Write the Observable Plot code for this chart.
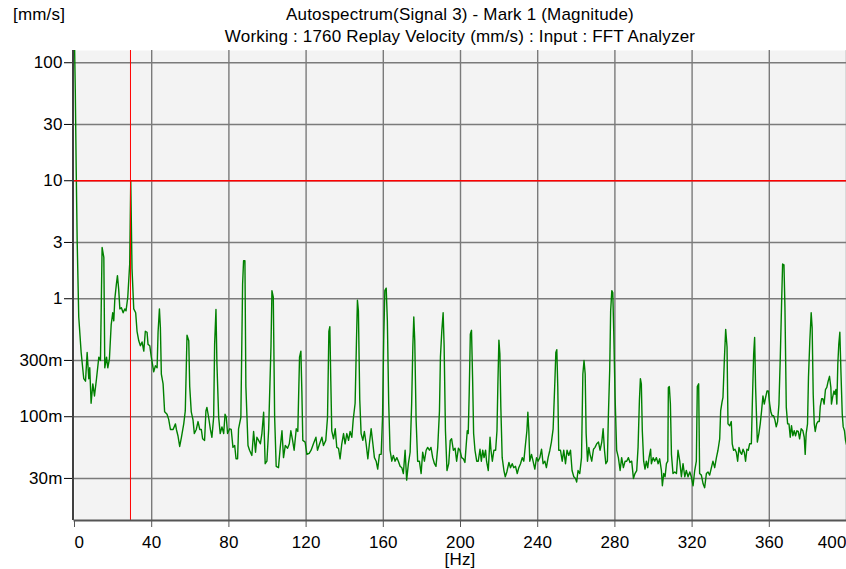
<!DOCTYPE html>
<html><head><meta charset="utf-8">
<script src="https://cdn.jsdelivr.net/npm/d3@7"></script>
<script src="https://cdn.jsdelivr.net/npm/@observablehq/plot@0.6"></script>
<style>
body{margin:0;background:#fff;font-family:"Liberation Sans",Arial,sans-serif;}
#wrap{position:relative;width:846px;height:569px;overflow:hidden;background:#fff}
.t{position:absolute;font-size:17px;letter-spacing:0.18px;color:#000;white-space:nowrap;line-height:22px}
#chart{position:absolute;left:0;top:0}
</style></head><body>
<div id="wrap">
<div id="chart"></div>
<div class="t" style="left:13px;top:4.1px">[mm/s]</div>
<div class="t" style="left:74px;width:772px;text-align:center;top:4.1px">Autospectrum(Signal 3) - Mark 1 (Magnitude)</div>
<div class="t" style="left:74px;width:772px;text-align:center;top:26.1px">Working : 1760 Replay Velocity (mm/s) : Input : FFT Analyzer</div>
<div class="t" style="left:74px;width:772px;text-align:center;top:552px;line-height:16px">[Hz]</div>
</div>
<script>
// Frequency axis [Hz]
const freq = [0,0.4,0.9,1.4,2.2,
3.45,4.8,5.7,6.55,7.4,7.9,8.6,9.5,10.35,11.4,12.6,13.45,14.3,15.2,15.7,16.6,17.25,18.1,19.0,19.8,20.35,20.9,21.7,22.25,22.9,23.5,24.3,25.2,26.05,26.7,27.6,28.6,29.15,29.8,30.7,31.7,32.4,33.3,34.15,35.0,35.9,36.7,37.6,38.1,39.0,39.8,41.05,41.9,42.8,43.3,44.0,44.5,45.0,45.9,46.7,47.95,48.8,49.7,51.1,52.3,52.8,53.6,54.5,55.4,56.6,57.4,58.3,59.2,59.7,60.5,61.4,62.1,63.1,64.0,64.9,65.7,66.4,67.4,68.1,68.6,69.5,70.4,71.2,72.1,72.6,73.3,73.8,74.7,75.5,76.4,77.3,78.0,78.65,79.3,80.4,81.2,82.1,83.0,83.7,84.5,85.0,86.2,87.1,87.6,88.3,88.8,89.9,90.7,91.9,92.8,93.8,94.5,95.4,96.3,97.1,98.0,98.8,99.7,
100.6,101.8,102.3,103.0,103.7,104.5,105.7,106.6,107.5,108.3,109.2,110.4,111.3,112.1,113.0,113.8,114.9,115.7,116.6,117.3,117.8,118.3,119.5,120.4,121.6,122.6,123.8,125.1,125.9,127.0,128.2,129.0,130.2,131.1,131.8,132.3,132.8,133.3,134.2,135.1,135.9,136.8,137.6,138.5,139.4,140.2,141.1,142.0,142.8,143.7,144.4,145.4,146.1,146.6,147.1,147.8,148.5,149.4,150.2,151.1,152.0,152.8,153.7,154.6,155.4,156.3,157.1,158.0,158.9,159.6,160.2,160.8,161.5,162.1,162.8,163.5,164.4,165.2,166.1,167.0,167.8,168.7,169.6,170.4,171.3,172.1,173.0,173.9,174.7,175.3,175.8,176.3,177.0,177.8,178.7,179.6,180.4,181.3,182.2,183.0,183.9,184.7,185.6,186.5,187.3,188.2,189.1,189.6,190.3,191.0,191.5,192.2,193.0,193.9,194.7,195.4,196.3,197.2,198.0,198.9,199.7,200.6,201.5,202.3,
203.5,204.0,204.5,205.1,205.7,206.3,206.8,207.5,208.4,209.2,210.1,210.8,211.5,212.2,213.0,213.5,214.4,215.3,215.8,216.5,217.3,218.2,218.9,219.4,219.9,220.4,220.9,221.6,222.5,223.2,224.0,225.1,225.9,226.8,227.6,228.5,229.4,230.2,231.1,232.0,232.8,233.7,234.4,234.9,235.4,235.9,236.8,237.6,238.5,239.4,240.2,241.1,242.0,242.8,243.7,244.5,245.4,246.3,247.1,248.0,248.9,249.4,249.9,250.4,250.9,251.8,252.7,253.5,254.4,255.2,256.1,257.0,257.8,258.7,259.6,260.2,260.9,261.8,262.7,263.4,264.0,264.6,265.1,265.8,266.5,267.1,268.0,268.9,269.7,270.6,271.5,272.3,273.2,273.9,274.6,275.3,276.1,276.6,277.3,277.8,278.4,278.9,279.4,280.1,280.9,281.8,282.7,283.5,284.4,285.3,286.1,287.0,287.8,288.7,289.6,290.4,291.3,292.0,292.7,293.2,293.7,294.2,294.9,295.6,296.3,297.0,297.7,298.5,
298.9,299.8,300.6,301.5,302.4,303.2,304.1,304.6,305.3,306.0,306.7,307.4,307.7,308.2,308.75,309.3,310.1,311.0,311.9,312.7,313.6,314.45,315.3,316.2,317.0,317.9,318.8,319.6,320.5,321.35,322.2,322.7,323.4,323.9,324.8,325.7,326.5,327.4,328.25,329.1,330.0,330.8,331.7,332.6,333.4,334.3,334.8,335.5,336.0,336.7,337.4,338.1,338.6,339.5,340.3,340.8,341.5,342.2,342.9,343.6,344.3,345.0,345.7,346.4,347.05,347.7,348.4,349.1,349.8,350.7,351.2,351.9,352.4,352.9,353.8,354.6,355.3,356.0,356.7,357.4,358.1,358.8,359.5,360.2,360.85,361.5,362.2,362.9,363.6,364.3,365.0,365.7,366.4,366.9,367.6,368.1,368.8,369.5,370.2,370.85,371.5,372.2,372.9,373.6,374.3,375.0,375.7,376.5,377.4,378.1,378.6,379.1,379.8,380.3,381.0,381.7,382.2,382.75,383.3,383.8,384.5,385.2,385.9,386.4,387.1,387.75,388.4,389.1,389.8,390.5,391.2,391.9,392.2,392.8,393.5,394.0,394.5,395.0,395.5,396.0,396.55,397.1,397.8,398.3,398.95,399.5,400];

// Magnitude [mm/s]
const mag = [150,60,12,3.0,0.70,
0.35,0.21,0.20,0.35,0.21,0.26,0.13,0.19,0.15,0.21,0.32,0.30,2.72,2.24,0.26,0.32,0.26,0.31,0.60,0.76,0.65,1.0,1.33,1.57,1.2,0.82,0.84,0.76,0.82,0.79,1.03,1.97,9.9,1.8,0.82,0.76,0.53,0.44,0.40,0.43,0.36,0.53,0.52,0.41,0.40,0.32,0.24,0.27,0.26,0.52,0.82,0.57,0.23,0.19,0.11,0.105,0.095,0.078,0.078,0.087,0.078,0.069,0.056,0.067,0.087,0.112,0.49,0.44,0.18,0.11,0.094,0.072,0.078,0.091,0.078,0.078,0.065,0.063,0.112,0.12,0.099,0.078,0.067,0.099,0.41,0.81,0.28,0.099,0.072,0.082,0.072,0.105,0.099,0.072,0.079,0.078,0.055,0.057,0.044,0.044,0.079,0.099,1.33,2.10,2.10,0.18,0.057,0.052,0.047,0.075,0.050,0.067,0.063,0.059,0.072,0.109,0.040,0.042,
0.078,0.39,1.17,1.03,0.099,0.038,0.037,0.055,0.076,0.045,0.057,0.054,0.059,0.076,0.063,0.052,0.079,0.075,0.32,0.36,0.165,0.063,0.061,0.048,0.049,0.052,0.059,0.067,0.052,0.059,0.067,0.057,0.063,0.099,0.53,0.58,0.20,0.076,0.065,0.079,0.055,0.054,0.044,0.059,0.072,0.059,0.072,0.063,0.075,0.067,0.094,0.13,0.44,0.97,0.79,0.14,0.072,0.063,0.075,0.059,0.044,0.059,0.079,0.059,0.045,0.042,0.036,0.048,0.048,0.099,0.44,1.17,1.23,0.65,0.13,0.052,0.042,0.047,0.042,0.045,0.042,0.038,0.037,0.033,0.052,0.029,0.040,0.050,0.13,0.39,0.70,0.44,0.094,0.042,0.042,0.033,0.050,0.042,0.052,0.055,0.052,0.055,0.045,0.040,0.038,0.055,0.112,0.32,0.53,0.76,0.41,0.076,0.035,0.040,0.063,0.065,0.052,0.054,0.042,0.054,0.052,0.045,0.044,0.041,
0.076,0.072,0.156,0.50,0.54,0.20,0.072,0.052,0.042,0.042,0.053,0.042,0.052,0.045,0.052,0.042,0.035,0.067,0.052,0.042,0.052,0.052,0.076,0.20,0.446,0.34,0.12,0.045,0.035,0.031,0.034,0.041,0.037,0.040,0.037,0.038,0.033,0.037,0.040,0.045,0.042,0.059,0.076,0.109,0.076,0.042,0.048,0.042,0.036,0.045,0.042,0.045,0.053,0.040,0.042,0.037,0.045,0.052,0.061,0.079,0.20,0.35,0.37,0.18,0.052,0.052,0.042,0.052,0.040,0.052,0.047,0.052,0.035,0.031,0.030,0.028,0.035,0.033,0.045,0.23,0.30,0.23,0.072,0.042,0.055,0.048,0.042,0.053,0.055,0.059,0.061,0.052,0.061,0.079,0.052,0.040,0.042,0.099,0.245,0.79,1.17,1.13,0.53,0.146,0.052,0.045,0.035,0.045,0.037,0.042,0.042,0.045,0.041,0.042,0.030,0.033,0.035,0.055,0.137,0.21,0.19,0.076,0.042,0.036,0.042,0.037,0.045,0.053,
0.040,0.045,0.042,0.045,0.040,0.044,0.035,0.026,0.033,0.031,0.040,0.042,0.177,0.18,0.128,0.048,0.033,0.034,0.033,0.052,0.042,0.031,0.040,0.031,0.035,0.031,0.034,0.031,0.026,0.035,0.042,0.18,0.19,0.033,0.032,0.027,0.025,0.033,0.034,0.032,0.037,0.042,0.037,0.045,0.052,0.065,0.112,0.133,0.146,0.30,0.55,0.39,0.087,0.084,0.091,0.059,0.052,0.053,0.050,0.042,0.055,0.050,0.048,0.053,0.050,0.042,0.053,0.052,0.059,0.059,0.128,0.34,0.47,0.177,0.061,0.072,0.087,0.112,0.15,0.128,0.146,0.165,0.165,0.128,0.109,0.102,0.102,0.094,0.082,0.091,0.128,0.32,0.96,1.97,1.94,0.85,0.12,0.087,0.087,0.067,0.084,0.069,0.076,0.069,0.076,0.075,0.065,0.079,0.076,0.067,0.048,0.072,0.087,0.216,0.44,0.76,0.57,0.155,0.087,0.075,0.087,0.091,0.091,0.122,0.142,0.142,0.128,0.17,0.177,0.20,0.22,0.177,0.128,0.146,0.165,0.155,0.17,0.128,0.28,0.41,0.52,0.245,0.105,0.082,0.076,0.063,0.058];

const xTicks = [0, 40, 80, 120, 160, 200, 240, 280, 320, 360, 400];
const xTickLabels = ["0", "40", "80", "120", "160", "200", "240", "280", "320", "360", "400"];
const yTicks = [100, 30, 10, 3, 1, 0.3, 0.1, 0.03];
const yTickLabels = ["100", "30", "10", "3", "1", "300m", "100m", "30m"];
const cursorHz = [29];
const cursorMag = [10];

const spectrum = freq.map((f, i) => ({f, m: mag[i]}));
const yLab = yTicks.map((v, i) => ({v, label: yTickLabels[i]}));
const xLab = xTicks.map((v, i) => ({v, label: xTickLabels[i]}));
const xFirst = xLab.slice(0, 1), xMid = xLab.slice(1, -1), xLast = xLab.slice(-1);

const chart = Plot.plot({
  width: 846,
  height: 569,
  marginTop: 50,
  marginBottom: 49,
  marginLeft: 74,
  marginRight: 0,
  style: {fontFamily: "'Liberation Sans', Arial, sans-serif", fontSize: "17px", letterSpacing: "0.15px", background: "transparent", color: "#000"},
  x: {domain: [0, 400], axis: null},
  y: {type: "log", domain: [0.0132, 127], axis: null},
  marks: [
    Plot.frame({fill: "#f3f3f3", stroke: null}),
    Plot.ruleX(xTicks.slice(1), {stroke: "#7a7a7a", strokeWidth: 1.4}),
    Plot.ruleY(yTicks, {stroke: "#7a7a7a", strokeWidth: 1.4}),
    Plot.line(spectrum, {x: "f", y: "m", stroke: "#008000", strokeWidth: 1.4, clip: true}),
    Plot.ruleX(cursorHz, {stroke: "#ff0000", strokeWidth: 1}),
    Plot.ruleY(cursorMag, {stroke: "#ff0000", strokeWidth: 1.5}),
    Plot.ruleX([0], {dx: -1.5, stroke: "#000", strokeWidth: 1.5}),
    Plot.frame({anchor: "bottom", stroke: "#555", strokeWidth: 2}),
    // y-axis ticks and labels
    Plot.axisY({ticks: yTicks, tickFormat: () => "", tickSize: 8, dx: -2, label: null, stroke: "#000"}),
    Plot.text(yLab, {y: "v", text: "label", frameAnchor: "left", textAnchor: "end", dx: -12, fontSize: 17, fill: "#000"}),
    // x-axis ticks and labels
    Plot.axisX({ticks: xTicks, tickFormat: () => "", tickSize: 7, label: null, stroke: "#555"}),
    Plot.text(xFirst, {x: "v", text: "label", frameAnchor: "bottom", lineAnchor: "top", dy: 15, textAnchor: "start", fontSize: 17, fill: "#000"}),
    Plot.text(xMid, {x: "v", text: "label", frameAnchor: "bottom", lineAnchor: "top", dy: 15, textAnchor: "middle", fontSize: 17, fill: "#000"}),
    Plot.text(xLast, {x: "v", text: "label", frameAnchor: "bottom", lineAnchor: "top", dy: 15, textAnchor: "end", fontSize: 17, fill: "#000"})
  ]
});
document.getElementById("chart").appendChild(chart);
</script>
</body></html>
